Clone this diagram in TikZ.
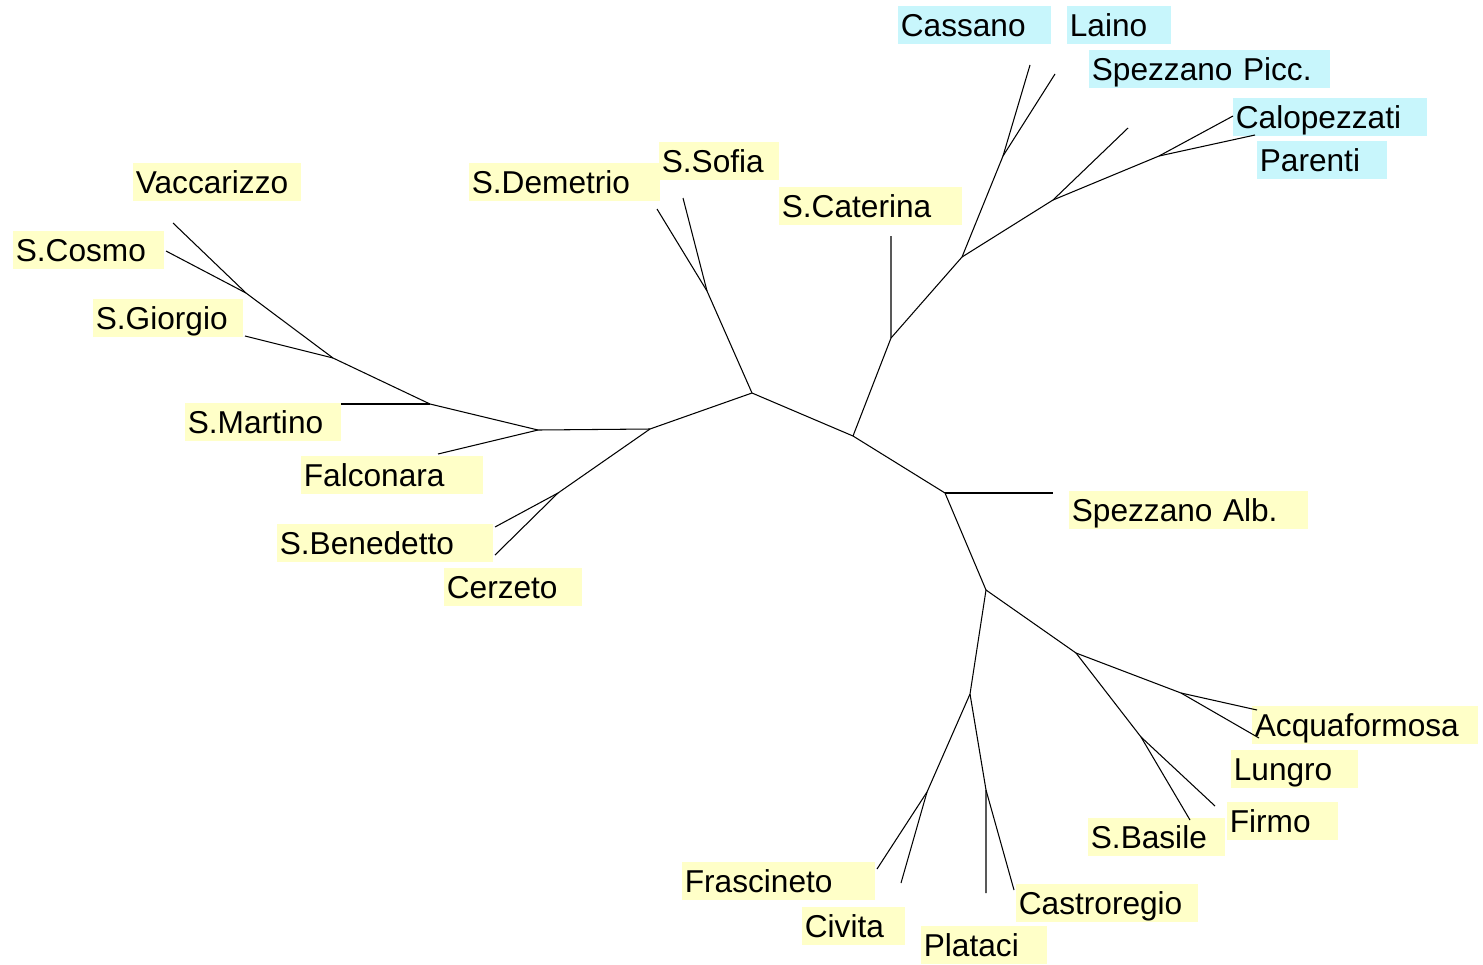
\documentclass[tikz,border=0pt]{standalone}
\usepackage{fontspec}
\setmainfont{Liberation Sans}
\usetikzlibrary{calc}
\definecolor{paleyellow}{RGB}{255,255,200}
\definecolor{palecyan}{RGB}{200,246,252}
\tikzset{town/.style={anchor=north west, inner xsep=0.05cm, inner ysep=0pt, minimum height=0.76cm,
    text height=12.9pt, text depth=0pt, align=left, font=\fontsize{18}{20}\selectfont}}
\newcommand{\town}[6]{\node[town, fill=#6, text width=#4cm] (#1) at ( #2 , #3 ) {#5};}

\begin{document}
\begin{tikzpicture}[x=0.02cm, y=-0.02cm, branch/.style={line width=0.6pt}]
        \useasboundingbox (0,0) rectangle (1483,964);

        % forks
        \coordinate (a) at (752,393);
        \coordinate (b) at (853,436);
        \coordinate (c) at (945,493);
        \coordinate (d) at (986,590);
        \coordinate (e) at (650,429);
        \coordinate (f) at (538,430);
        \coordinate (g) at (430,404);
        \coordinate (h) at (333,358);
        \coordinate (i) at (246,293);
        \coordinate (j) at (558,493);
        \coordinate (k) at (707,291);
        \coordinate (l) at (891,338);
        \coordinate (m) at (962,257);
        \coordinate (n) at (1003,156);
        \coordinate (o) at (1053,200);
        \coordinate (p) at (1159,156);
        \coordinate (q) at (1076,653);
        \coordinate (r) at (1181,693);
        \coordinate (s) at (1141,737);
        \coordinate (t) at (970,694);
        \coordinate (u) at (927,792);
        \coordinate (v) at (986,790);

        % leaf ends
        \coordinate (tvac) at (173,223);
        \coordinate (tcos) at (166,251);
        \coordinate (tgio) at (245,336);
        \coordinate (tmar) at (341,404);
        \coordinate (tfal) at (438,454);
        \coordinate (tben) at (495,527);
        \coordinate (tcer) at (495,555);
        \coordinate (tdem) at (657,209);
        \coordinate (tsof) at (683,198);
        \coordinate (tcat) at (891,236);
        \coordinate (tcas) at (1030,65);
        \coordinate (tlai) at (1055,74);
        \coordinate (tspp) at (1128,128);
        \coordinate (tcal) at (1233,116);
        \coordinate (tpar) at (1255,135);
        \coordinate (tspa) at (1053,493);
        \coordinate (tacq) at (1257,710);
        \coordinate (tlun) at (1259,738);
        \coordinate (tfir) at (1215,806);
        \coordinate (tbas) at (1190,820);
        \coordinate (tfra) at (877,869);
        \coordinate (tciv) at (901,883);
        \coordinate (tpla) at (986,893);
        \coordinate (tcro) at (1014,890);

        % labels, left
        \town{vac}{133}{163}{3.26}{Vaccarizzo}{paleyellow}
        \town{cos}{13}{231}{2.92}{S.Cosmo}{paleyellow}
        \town{gio}{93}{299}{2.90}{S.Giorgio}{paleyellow}
        \town{mar}{185}{403}{3.02}{S.Martino}{paleyellow}
        \town{fal}{301}{456}{3.54}{Falconara}{paleyellow}
        \town{ben}{277}{524}{4.22}{S.Benedetto}{paleyellow}
        \town{cer}{444}{568}{2.66}{Cerzeto}{paleyellow}

        % labels, top
        \town{dem}{469}{163}{3.72}{S.Demetrio}{paleyellow}
        \town{sof}{659}{142}{2.30}{S.Sofia}{paleyellow}
        \town{cat}{779}{187}{3.56}{S.Caterina}{paleyellow}
        \town{cas}{898}{6}{2.96}{Cassano}{palecyan}
        \town{lai}{1067}{6}{1.98}{Laino}{palecyan}
        \town{spp}{1089}{50}{4.72}{Spezzano Picc.}{palecyan}
        \town{cal}{1233}{98}{3.78}{Calopezzati}{palecyan}
        \town{par}{1257}{141}{2.50}{Parenti}{palecyan}

        % labels, right and bottom
        \town{spa}{1069}{491}{4.68}{Spezzano Alb.}{paleyellow}
        \town{acq}{1252}{706}{4.42}{Acquaformosa}{paleyellow}
        \town{lun}{1231}{750}{2.44}{Lungro}{paleyellow}
        \town{fir}{1227}{802}{2.12}{Firmo}{paleyellow}
        \town{bas}{1088}{818}{2.64}{S.Basile}{paleyellow}
        \town{fra}{682}{862}{3.76}{Frascineto}{paleyellow}
        \town{civ}{802}{907}{1.96}{Civita}{paleyellow}
        \town{pla}{921}{926}{2.42}{Plataci}{paleyellow}
        \town{cro}{1016}{884}{3.54}{Castroregio}{paleyellow}

        % centre
        \draw[branch] (a) -- (b) -- (c) -- (d);

        % left
        \draw[branch] (a) -- (e) -- (f) -- (g) -- (h) -- (i) -- (tvac);
        \draw[branch] (i) -- (tcos);
        \draw[branch] (h) -- (tgio);
        \draw[branch] (g) -- (tmar);
        \draw[branch] (f) -- (tfal);
        \draw[branch] (e) -- (j) -- (tcer);
        \draw[branch] (j) -- (tben);

        % top
        \draw[branch] (a) -- (k) -- (tdem);
        \draw[branch] (k) -- (tsof);
        \draw[branch] (b) -- (l) -- (tcat);
        \draw[branch] (l) -- (m) -- (n) -- (tcas);
        \draw[branch] (n) -- (tlai);
        \draw[branch] (m) -- (o) -- (tspp);
        \draw[branch] (o) -- (p) -- (tcal);
        \draw[branch] (p) -- (tpar);

        % right
        \draw[branch] (c) -- (tspa);
        \draw[branch] (d) -- (q) -- (r) -- (tacq);
        \draw[branch] (r) -- (tlun);
        \draw[branch] (q) -- (s) -- (tfir);
        \draw[branch] (s) -- (tbas);

        % bottom
        \draw[branch] (d) -- (t) -- (u) -- (tfra);
        \draw[branch] (u) -- (tciv);
        \draw[branch] (t) -- (v) -- (tpla);
        \draw[branch] (v) -- (tcro);

    \end{tikzpicture}
\end{document}
